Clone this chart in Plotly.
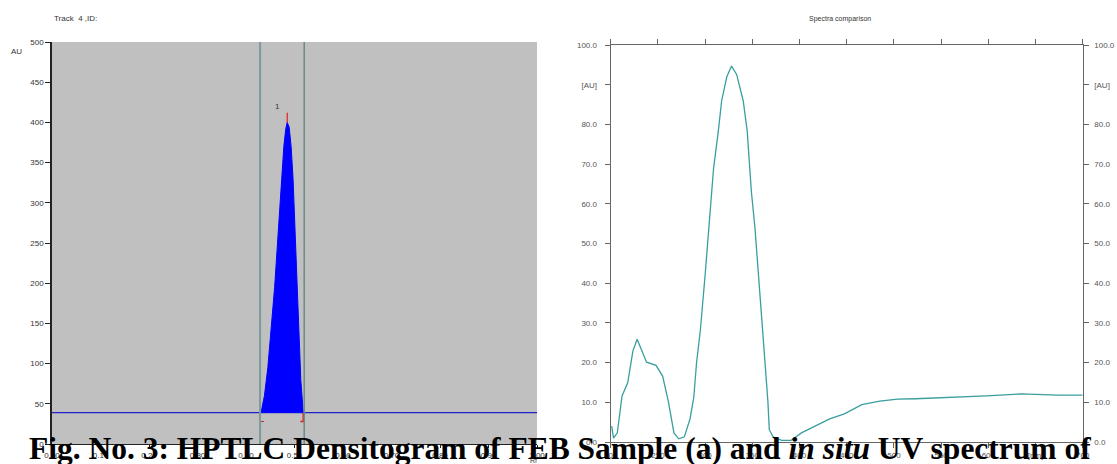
import plotly.graph_objects as go

# ---------------- data ----------------
# Left: HPTLC densitogram (Rf vs AU)
peak_rf = [0.431, 0.438, 0.445, 0.452, 0.459, 0.465, 0.470, 0.474, 0.478, 0.482,
           0.485, 0.489, 0.493, 0.497, 0.501, 0.505, 0.509, 0.513, 0.518]
peak_au = [39, 60, 95, 140, 195, 250, 300, 340, 370, 392,
           400, 394, 370, 330, 270, 200, 135, 80, 39]
baseline_au = 39
peak_start_rf = 0.429
peak_end_rf = 0.520
peak_max_rf = 0.485
left_yticks = [0, 50, 100, 150, 200, 250, 300, 350, 400, 450, 500]
left_xticks = [0.0, 0.1, 0.2, 0.3, 0.4, 0.5, 0.6, 0.7, 0.8, 0.9, 1.0]
left_xlabels = ["0.00", "0.10", "0.20", "0.30", "0.40", "0.50", "0.60", "0.70", "0.80", "0.90", "1.00"]

# Right: in situ UV spectrum (nm vs AU)
wavelength = [201, 203, 207, 208, 212, 218, 223.5, 228, 235, 238, 248, 255, 261, 267,
              272, 278, 284, 288, 291, 295, 300, 305, 309, 314, 317.5, 323, 328,
              333.4, 340.4, 344.6, 349, 352.8, 361, 363, 366.5, 368, 372, 381, 391,
              402, 417, 432, 447.5, 466, 485, 504, 523, 560, 598, 635, 673, 700]
absorb = [4.0, 1.0, 2.3, 4.5, 11.6, 14.9, 22.9, 25.9, 21.9, 20.1, 19.3, 16.6, 10.3, 2.3,
          0.8, 1.3, 5.8, 11.2, 20.1, 28.2, 42.0, 56.4, 69.0, 78.3, 85.9, 92.0, 94.7,
          92.6, 85.9, 78.3, 63.1, 54.0, 28.2, 20.1, 10.3, 3.1, 1.3, 0.4, 0.4,
          2.3, 4.0, 5.8, 7.1, 9.4, 10.3, 10.8, 10.9, 11.2, 11.6, 12.1, 11.8, 11.8]
right_yticks = [0, 10, 20, 30, 40, 50, 60, 70, 80, 90, 100]
right_ylabels = ["0.0", "10.0", "20.0", "30.0", "40.0", "50.0", "60.0", "70.0", "80.0", "[AU]", "100.0"]
right_xticks = [200, 250, 300, 350, 400, 450, 500, 550, 600, 650, 700]
right_xlabels = ["200", "250", "300", "350", "400", "450", "500", "550", "600", "[nm]", "700"]

caption = "Fig. No. 3: HPTLC Densitogram of FEB Sample (a) and <i>in situ</i> UV spectrum of"

# ---------------- figure ----------------
W, H = 1117, 464
fig = go.Figure()

BLUE = "#0000ff"
TEAL = "#3a9e9e"
small = dict(family="Liberation Sans, Arial", size=8, color="#333333")
small_gray = dict(family="Liberation Sans, Arial", size=8, color="#555555")

# baseline across left chart
fig.add_trace(go.Scatter(x=[0, 1.0], y=[baseline_au, baseline_au], mode="lines",
                         line=dict(color="#2222cc", width=1.2), xaxis="x", yaxis="y",
                         hoverinfo="skip", showlegend=False))
# peak fill
fig.add_trace(go.Scatter(x=peak_rf, y=[baseline_au] * len(peak_rf), mode="lines",
                         line=dict(color=BLUE, width=0), xaxis="x", yaxis="y",
                         hoverinfo="skip", showlegend=False))
fig.add_trace(go.Scatter(x=peak_rf, y=peak_au, mode="lines", fill="tonexty",
                         fillcolor=BLUE, line=dict(color=BLUE, width=1),
                         xaxis="x", yaxis="y", showlegend=False))
# peak boundary markers (red brackets) and peak max marker
fig.add_trace(go.Scatter(x=[peak_start_rf + 0.008, peak_start_rf, peak_start_rf],
                         y=[baseline_au - 11, baseline_au - 11, baseline_au], mode="lines",
                         line=dict(color="#e02020", width=1.2), xaxis="x", yaxis="y",
                         hoverinfo="skip", showlegend=False))
fig.add_trace(go.Scatter(x=[peak_end_rf - 0.008, peak_end_rf - 0.002, peak_end_rf - 0.002],
                         y=[baseline_au - 11, baseline_au - 11, baseline_au], mode="lines",
                         line=dict(color="#e02020", width=1.5), xaxis="x", yaxis="y",
                         hoverinfo="skip", showlegend=False))
fig.add_trace(go.Scatter(x=[peak_max_rf, peak_max_rf], y=[max(peak_au), max(peak_au) + 12],
                         mode="lines", line=dict(color="#e02020", width=1.2),
                         xaxis="x", yaxis="y", hoverinfo="skip", showlegend=False))

# spectrum
fig.add_trace(go.Scatter(x=wavelength, y=absorb, mode="lines",
                         line=dict(color=TEAL, width=1.3), xaxis="x2", yaxis="y2",
                         showlegend=False))
# dummy trace to draw the right-side axis labels
fig.add_trace(go.Scatter(x=[200], y=[0], mode="markers", marker=dict(opacity=0),
                         xaxis="x2", yaxis="y3", hoverinfo="skip", showlegend=False))

shapes = [
    # gray background of densitogram
    dict(type="rect", xref="x domain", yref="y domain", x0=0, x1=1, y0=0, y1=1,
         fillcolor="#c0c0c0", line=dict(width=0), layer="below"),
    dict(type="line", xref="x", yref="y domain", x0=peak_start_rf, x1=peak_start_rf,
         y0=0, y1=1, line=dict(color="#7a9c9c", width=2)),
    dict(type="line", xref="x", yref="y domain", x0=peak_end_rf, x1=peak_end_rf,
         y0=0, y1=1, line=dict(color="#6a8a8a", width=1.5)),
]

lx0, lx1 = 52 / W, 537 / W
ly0, ly1 = 1 - 444 / H, 1 - 42 / H
rx0, rx1 = 610.7 / W, 1082.7 / W
ry0, ry1 = 1 - 442 / H, 1 - 45 / H

fig.update_layout(
    width=W, height=H,
    margin=dict(l=0, r=0, t=0, b=0, autoexpand=False),
    paper_bgcolor="white", plot_bgcolor="white",
    shapes=shapes,
    xaxis=dict(domain=[lx0, lx1], range=[0, 1.0], tickvals=left_xticks, ticktext=left_xlabels,
               showgrid=False, zeroline=False, showline=True, linecolor="#222222", linewidth=1,
               ticks="outside", ticklen=3, tickcolor="#222222", tickfont=small, anchor="y",
               automargin=False),
    yaxis=dict(domain=[ly0, ly1], range=[0, 500], tickvals=left_yticks,
               showgrid=False, zeroline=False, showline=True, linecolor="#222222", linewidth=1.5,
               ticks="outside", ticklen=5, tickcolor="#222222", tickfont=small, anchor="x",
               automargin=False),
    xaxis2=dict(domain=[rx0, rx1], range=[200, 700], tickvals=right_xticks, ticktext=right_xlabels,
                showgrid=False, zeroline=False, showline=True, linecolor="#666666", linewidth=1.2,
                mirror="ticks", ticks="outside", ticklen=5, tickcolor="#666666",
                tickfont=small_gray, anchor="y2", automargin=False),
    yaxis2=dict(domain=[ry0, ry1], range=[0, 100], tickvals=right_yticks, ticktext=right_ylabels,
                showgrid=False, zeroline=False, showline=True, linecolor="#666666", linewidth=1.2,
                mirror=True, ticks="outside", ticklen=5, tickcolor="#666666",
                tickfont=small_gray, anchor="x2", ticklabelstandoff=6, automargin=False),
    yaxis3=dict(overlaying="y2", side="right", range=[0, 100], tickvals=right_yticks,
                ticktext=right_ylabels, showgrid=False, zeroline=False, showline=False,
                ticks="outside", ticklen=5, tickcolor="#666666", tickfont=small_gray,
                anchor="x2", ticklabelstandoff=4, automargin=False),
    annotations=[
        dict(text="Track  4 ,ID:", xref="paper", yref="paper", x=52 / W, y=1 - 18 / H,
             xanchor="left", yanchor="middle", showarrow=False, font=small),
        dict(text="AU", xref="paper", yref="paper", x=16 / W, y=1 - 52 / H,
             xanchor="center", yanchor="middle", showarrow=False, font=small),
        dict(text="1", xref="x", yref="y", x=0.464, y=420, xanchor="center",
             yanchor="middle", showarrow=False, font=small),
        dict(text="Rf", xref="paper", yref="paper", x=533 / W, y=1 - 460 / H,
             xanchor="center", yanchor="middle", showarrow=False,
             font=dict(family="Liberation Sans, Arial", size=7, color="#333333")),
        dict(text="Spectra comparison", xref="paper", yref="paper", x=840 / W, y=1 - 19 / H,
             xanchor="center", yanchor="middle", showarrow=False,
             font=dict(family="Liberation Sans, Arial", size=7, color="#333333")),
        dict(text="<b>" + caption + "</b>", xref="paper", yref="paper", x=560 / W, y=1 - 448 / H,
             xanchor="center", yanchor="middle", showarrow=False,
             font=dict(family="Liberation Serif, Times New Roman", size=31.5, color="black")),
    ],
)

fig.write_html("out.html", config={"displayModeBar": False},
               post_script="document.body.style.margin='0';document.body.style.padding='0';")
